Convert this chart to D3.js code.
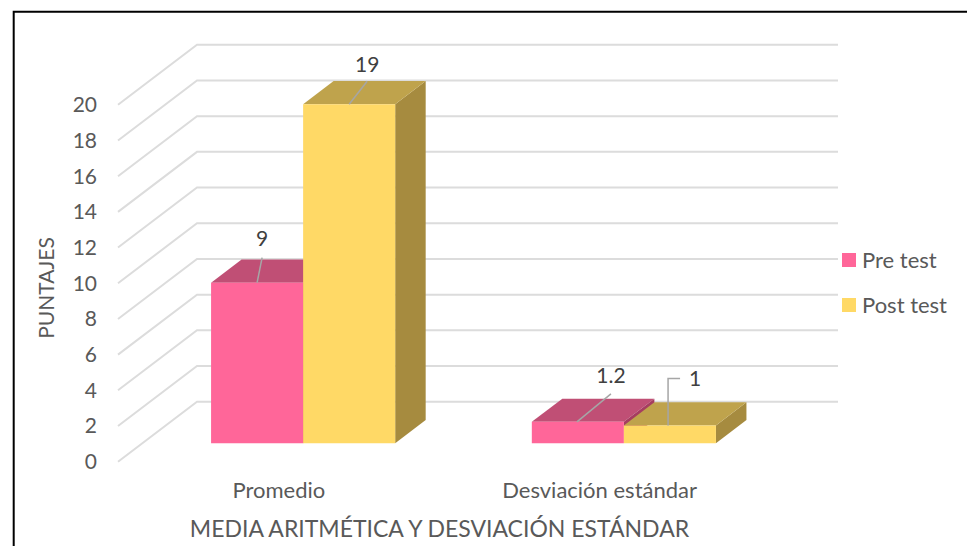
<!DOCTYPE html>
<html><head><meta charset="utf-8">
<script src="https://cdn.jsdelivr.net/npm/d3@7"></script>
<style>html,body{margin:0;padding:0;background:#fff}svg{display:block}text{font-family:Lato,"Open Sans",sans-serif}</style>
</head><body><svg id="c" width="967" height="546"></svg>
<script>
const categories = ["Promedio", "Desviación estándar"];
const seriesNames = ["Pre test", "Post test"];
const preTest = [9, 1.2];
const postTest = [19, 1];
const yTicks = [0,2,4,6,8,10,12,14,16,18,20];
const preLabels = ["9","1.2"];
const postLabels = ["19","1"];

const svg = d3.select("#c");
const W=967,H=546;
const fills = {
  front:["#FF6699","#FFD966"],
  top:["#C04F75","#BFA34C"],
  side:["#A63D60","#A68B3F"]
};
// scales
const y = d3.scaleLinear().domain([0,20]).range([461.7,104.8]);
const x0 = d3.scaleBand().domain(categories).range([118.5,760]).paddingInner(0.426).paddingOuter(0.213);
const x1 = d3.scaleBand().domain(seriesNames).range([0,x0.bandwidth()]);
const depthX = d3.scaleLinear().domain([0,1]).range([0,79]);
const depthY = d3.scaleLinear().domain([0,1]).range([0,-60]);
const BAR_D0=0.307, BAR_D1=0.693;
const pt=(xv,val,d)=>[xv+depthX(d), y(val)+depthY(d)];
const poly=pts=>pts.map(p=>p.join(",")).join(" ");

// frame
svg.append("path").attr("d",`M${W},11.7H13.7V${H}`).attr("fill","none").attr("stroke","#000").attr("stroke-width",2);

// grid
const g=svg.append("g").attr("fill","none").attr("stroke","#DCDCDC").attr("stroke-width",2);
yTicks.forEach(t=>{
  const a=pt(118,t,0),b=pt(118,t,1),c=pt(759,t,1);
  g.append("polyline").attr("points",poly([a,b,c]));
});
// y tick labels
svg.append("g").selectAll("text").data(yTicks).join("text")
  .attr("x",97).attr("y",d=>y(d)).attr("dy","0.35em").attr("text-anchor","end")
  .attr("font-size",21).attr("fill","#595959").text(d=>d);

// bars
const rows=categories.map((c,i)=>({c,vals:[preTest[i],postTest[i]]}));
const bars=svg.append("g");
rows.forEach(r=>{
  const bx=s=>x0(r.c)+x1(seriesNames[s]);
  const w=x1.bandwidth();
  const base=(s)=>{
    const l=bx(s), v=r.vals[s];
    return {top:[pt(l,v,BAR_D0),pt(l+w,v,BAR_D0),pt(l+w,v,BAR_D1),pt(l,v,BAR_D1)],
            side:[pt(l+w,v,BAR_D0),pt(l+w,0,BAR_D0),pt(l+w,0,BAR_D1),pt(l+w,v,BAR_D1)],
            front:[pt(l,v,BAR_D0),pt(l+w,v,BAR_D0),pt(l+w,0,BAR_D0),pt(l,0,BAR_D0)]};
  };
  const p=base(0),q=base(1);
  const add=(pts,col)=>bars.append("polygon").attr("points",poly(pts)).attr("fill",col);
  add(p.top,fills.top[0]); add(p.side,fills.side[0]);
  add(q.side,fills.side[1]); add(q.top,fills.top[1]);
  add(p.front,fills.front[0]); add(q.front,fills.front[1]);
});

// data labels and leader lines
const lead=svg.append("g").attr("fill","none").attr("stroke","#A6A6A6").attr("stroke-width",1.5);
const lab=svg.append("g").attr("font-size",21).attr("fill","#404040").attr("text-anchor","middle");
const anchorOf=(cat,s,v,fx)=>{
  const l=x0(cat)+x1(seriesNames[s]);
  return pt(l+x1.bandwidth()*fx,v,BAR_D0);
};
const labelSpec=[
 {cat:0,s:0,v:preTest[0],t:preLabels[0],fx:0.5,off:[[5,-25]],lx:5,ly:-44},
 {cat:0,s:1,v:postTest[0],t:postLabels[0],fx:0.5,off:[[18,-23]],lx:18,ly:-40},
 {cat:1,s:0,v:preTest[1],t:preLabels[1],fx:0.49,off:[[34,-28]],lx:34,ly:-46},
 {cat:1,s:1,v:postTest[1],t:postLabels[1],fx:0.48,off:[[0,-47],[12,-47]],lx:27,ly:-47}
];
labelSpec.forEach(d=>{
  const a=anchorOf(categories[d.cat],d.s,d.v,d.fx);
  const pts=[a,...d.off.map(o=>[a[0]+o[0],a[1]+o[1]])];
  lead.append("polyline").attr("points",poly(pts));
  lab.append("text").attr("x",a[0]+d.lx).attr("y",a[1]+d.ly).attr("dy","0.35em").text(d.t);
});

// category labels
svg.append("g").selectAll("text").data(categories).join("text")
  .attr("x",d=>x0(d)+x0.bandwidth()/2).attr("y",498).attr("text-anchor","middle")
  .attr("font-size",22).attr("fill","#595959").text(d=>d);

// axis titles
svg.append("text").attr("x",439.5).attr("y",537).attr("text-anchor","middle")
  .attr("font-size",23).attr("fill","#595959").text("MEDIA ARITMÉTICA Y DESVIACIÓN ESTÁNDAR");
svg.append("text").attr("transform","translate(54,288) rotate(-90)").attr("text-anchor","middle")
  .attr("font-size",21).attr("fill","#595959").text("PUNTAJES");

// legend
const leg=svg.append("g").selectAll("g").data(seriesNames).join("g")
  .attr("transform",(d,i)=>`translate(842,${253+i*45})`);
leg.append("rect").attr("width",14).attr("height",14).attr("fill",(d,i)=>fills.front[i]);
leg.append("text").attr("x",20).attr("y",7).attr("dy","0.35em").attr("font-size",22).attr("fill","#595959").text(d=>d);
</script></body></html>
